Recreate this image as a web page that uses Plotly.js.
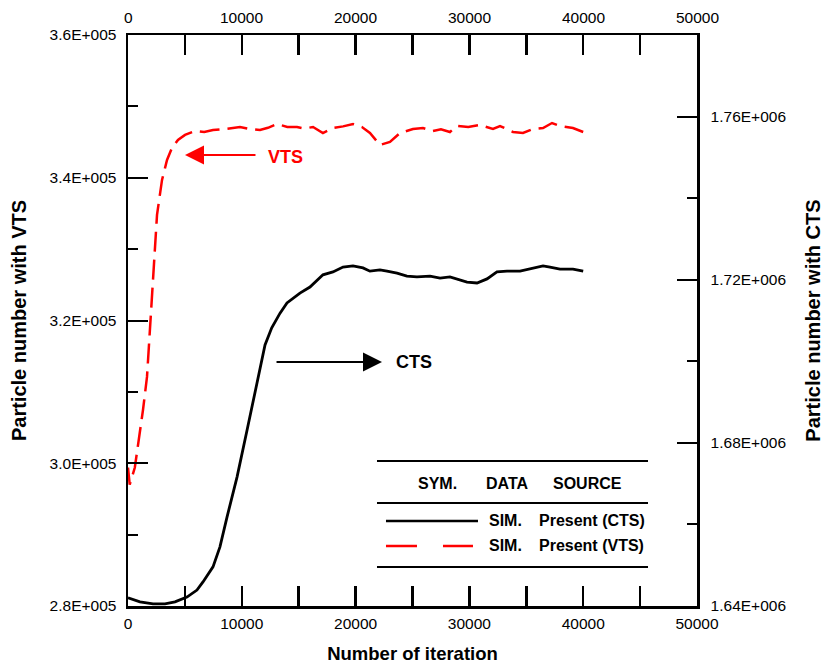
<!DOCTYPE html>
<html>
<head>
<meta charset="utf-8">
<script src="https://cdn.plot.ly/plotly-3.0.1.min.js"></script>
<style>html,body{margin:0;padding:0;background:#fff;}#chart{width:824px;height:666px;}</style>
</head>
<body>
<div id="chart"></div>
<script>
// ---- data ----
const iterVTS = [0, 150, 600, 880, 1320, 1670, 1930, 2200, 2550, 2990, 3430, 3870, 4390, 5010, 5890,
  6700, 7470, 8500, 9840, 10700, 11600, 12300, 13090, 14000, 14850, 15500, 16260, 17130, 18010, 18900,
  19770, 20560, 21260, 22140, 23020, 23900, 25040, 25920, 26800, 27500, 28290, 28910, 29900, 30930,
  32070, 32690, 33830, 34710, 35590, 36470, 37260, 37960, 39100, 40000];
const valVTS = [299400, 297000, 299400, 302300, 307500, 312100, 319100, 327100, 334800, 339700, 342500, 344200, 345300, 346000, 346550,
  346400, 346690, 346830, 347110, 346830, 346690, 347000, 347530, 347110, 347110, 346900, 347110, 346270, 346970, 347200,
  347530, 347110, 346270, 344590, 345010, 346270, 346830, 346970, 346550, 346800, 346410, 347250, 347100, 347390,
  346830, 347250, 346410, 346270, 346830, 346970, 347670, 347250, 346970, 346410];

const iterCTS = [0, 530, 1050, 2200, 3250, 4130, 5180, 6060, 6590, 7470, 8080, 8700, 9580, 10460, 11335,
  12040, 12630, 13360, 13970, 15110, 15990, 17130, 18010, 18890, 19770, 20650, 21260, 22140, 22760, 23640,
  24510, 25390, 26540, 27420, 28290, 29170, 29790, 30670, 31550, 32420, 33300, 34450, 35590, 36470, 37080,
  37960, 39100, 40000];
const valCTS = [1642000, 1641500, 1641000, 1640500, 1640500, 1641000, 1642200, 1643900, 1645900, 1649600, 1654500, 1661800, 1671600, 1683100, 1694700,
  1704000, 1708200, 1711800, 1714300, 1716700, 1718200, 1721200, 1721900, 1723100, 1723400, 1722900, 1722100, 1722400, 1722100, 1721600,
  1720900, 1720700, 1720900, 1720400, 1720700, 1719900, 1719400, 1719200, 1720200, 1721900, 1722100, 1722100, 1722900, 1723400, 1723100,
  1722600, 1722600, 1722100];

const xTickVals = [0, 10000, 20000, 30000, 40000, 50000];
const xTickText = ['0', '10000', '20000', '30000', '40000', '50000'];
const xMinorVals = [5000, 15000, 25000, 35000, 45000];
const yLeftTickVals = [280000, 300000, 320000, 340000, 360000];
const yLeftTickText = ['2.8E+005', '3.0E+005', '3.2E+005', '3.4E+005', '3.6E+005'];
const yRightTickVals = [1640000, 1680000, 1720000, 1760000];
const yRightTickText = ['1.64E+006', '1.68E+006', '1.72E+006', '1.76E+006'];

const legendHeader = ['SYM.', 'DATA', 'SOURCE'];
const legendData = ['SIM.', 'SIM.'];
const legendSource = ['Present (CTS)', 'Present (VTS)'];

// ---- styling ----
const FONT = 'Liberation Sans, Arial, sans-serif';
const RED = '#ff0000';
const tickFont = {family: FONT, size: 15.5, color: '#000'};

function axisBase() {
  return {
    ticks: 'inside', ticklen: 20, tickwidth: 2, tickcolor: '#000',
    showline: true, linewidth: 2.5, linecolor: '#000',
    showgrid: false, zeroline: false, tickfont: tickFont,
    fixedrange: true
  };
}

const traces = [
  {x: iterVTS, y: valVTS, xaxis: 'x', yaxis: 'y', mode: 'lines', name: 'Present (VTS)',
   line: {color: RED, width: 2.5, dash: '20px,8px'}, hoverinfo: 'skip'},
  {x: iterCTS, y: valCTS, xaxis: 'x', yaxis: 'y2', mode: 'lines', name: 'Present (CTS)',
   line: {color: '#000', width: 2.8}, hoverinfo: 'skip'}
];

const xa = Object.assign(axisBase(), {
  range: [0, 50000], tickmode: 'array', tickvals: xTickVals, ticktext: xTickText,
  mirror: 'allticks', ticklabelstandoff: 2, tickwidth: 2.5,
  minor: {ticks: 'inside', ticklen: 10, tickwidth: 2.5, tickcolor: '#000', tickmode: 'array', tickvals: xMinorVals},
  title: {text: 'Number of iteration', font: {family: FONT, size: 18.5, weight: 'bold', color: '#000'}, standoff: 16}
});
const ya = Object.assign(axisBase(), {
  range: [280000, 360000], tickmode: 'array', tickvals: yLeftTickVals, ticktext: yLeftTickText,
  ticklabelstandoff: 6,
  minor: {ticks: 'inside', ticklen: 10, tickwidth: 2, tickcolor: '#000', tick0: 280000, dtick: 10000},
  title: {text: 'Particle number with VTS', font: {family: FONT, size: 20, weight: 'bold', color: '#000'}, standoff: 18}
});
const ya2 = Object.assign(axisBase(), {
  range: [1640000, 1780000], tickmode: 'array', tickvals: yRightTickVals, ticktext: yRightTickText,
  overlaying: 'y', side: 'right', anchor: 'x', ticklabelstandoff: 8,
  minor: {ticks: 'inside', ticklen: 10, tickwidth: 2, tickcolor: '#000', tick0: 1640000, dtick: 20000},
  title: {text: 'Particle number with CTS', font: {family: FONT, size: 20, weight: 'bold', color: '#000'}, standoff: 22}
});

// legend table (paper coordinates)
const LX0 = 0.4376, LX1 = 0.9139;
const shapes = [
  {type: 'line', xref: 'paper', yref: 'paper', x0: LX0, x1: LX1, y0: 0.254, y1: 0.254, line: {color: '#000', width: 2}},
  {type: 'line', xref: 'paper', yref: 'paper', x0: LX0, x1: LX1, y0: 0.1804, y1: 0.1804, line: {color: '#000', width: 2}},
  {type: 'line', xref: 'paper', yref: 'paper', x0: LX0, x1: LX1, y0: 0.0683, y1: 0.0683, line: {color: '#000', width: 2}},
  {type: 'line', xref: 'paper', yref: 'paper', x0: 0.4534, x1: 0.6151, y0: 0.1489, y1: 0.1489, line: {color: '#000', width: 2.5}},
  {type: 'line', xref: 'paper', yref: 'paper', x0: 0.4534, x1: 0.6063, y0: 0.1051, y1: 0.1051, line: {color: RED, width: 2.5, dash: '31px,26px'}}
];

const legFont = {family: FONT, size: 16, weight: 'bold', color: '#000'};
const annotations = [];
// top axis tick labels (the top axis mirrors the bottom one)
xTickVals.forEach(function (v, i) {
  annotations.push({xref: 'x', yref: 'paper', x: v, y: 1, yshift: 18, text: xTickText[i], showarrow: false,
    xanchor: 'center', yanchor: 'middle', font: tickFont});
});
annotations.push(
  {xref: 'paper', yref: 'paper', x: 0.5448, y: 0.2154, text: legendHeader[0], showarrow: false, xanchor: 'center', yanchor: 'middle', font: legFont},
  {xref: 'paper', yref: 'paper', x: 0.6678, y: 0.2154, text: legendHeader[1], showarrow: false, xanchor: 'center', yanchor: 'middle', font: legFont},
  {xref: 'paper', yref: 'paper', x: 0.8084, y: 0.2154, text: legendHeader[2], showarrow: false, xanchor: 'center', yanchor: 'middle', font: legFont},
  {xref: 'paper', yref: 'paper', x: 0.6309, y: 0.1489, text: legendData[0], showarrow: false, xanchor: 'left', yanchor: 'middle', font: legFont},
  {xref: 'paper', yref: 'paper', x: 0.6309, y: 0.1051, text: legendData[1], showarrow: false, xanchor: 'left', yanchor: 'middle', font: legFont},
  {xref: 'paper', yref: 'paper', x: 0.7188, y: 0.1489, text: legendSource[0], showarrow: false, xanchor: 'left', yanchor: 'middle', font: legFont},
  {xref: 'paper', yref: 'paper', x: 0.7188, y: 0.1051, text: legendSource[1], showarrow: false, xanchor: 'left', yanchor: 'middle', font: legFont},
  // VTS arrow + label
  {xref: 'x', yref: 'y', x: 5010, y: 343190, axref: 'x', ayref: 'y', ax: 11335, ay: 343190, text: '',
   showarrow: true, arrowhead: 2, arrowsize: 1.9, arrowwidth: 2, arrowcolor: RED},
  {xref: 'x', yref: 'y', x: 13840, y: 342900, text: 'VTS', showarrow: false, xanchor: 'center', yanchor: 'middle',
   font: {family: FONT, size: 18, weight: 'bold', color: RED}},
  // CTS arrow + label
  {xref: 'x', yref: 'y2', x: 22320, y: 1699800, axref: 'x', ayref: 'y2', ax: 12920, ay: 1699800, text: '',
   showarrow: true, arrowhead: 2, arrowsize: 1.9, arrowwidth: 2, arrowcolor: '#000'},
  {xref: 'x', yref: 'y2', x: 25090, y: 1699800, text: 'CTS', showarrow: false, xanchor: 'center', yanchor: 'middle',
   font: {family: FONT, size: 18, weight: 'bold', color: '#000'}}
);

const layout = {
  width: 824, height: 666,
  margin: {l: 128, r: 127, t: 35, b: 60, pad: 0},
  paper_bgcolor: '#fff', plot_bgcolor: '#fff',
  showlegend: false,
  xaxis: xa, yaxis: ya, yaxis2: ya2,
  shapes: shapes, annotations: annotations,
  font: {family: FONT, color: '#000'}
};

Plotly.newPlot('chart', traces, layout, {staticPlot: true, displayModeBar: false});
</script>
</body>
</html>
